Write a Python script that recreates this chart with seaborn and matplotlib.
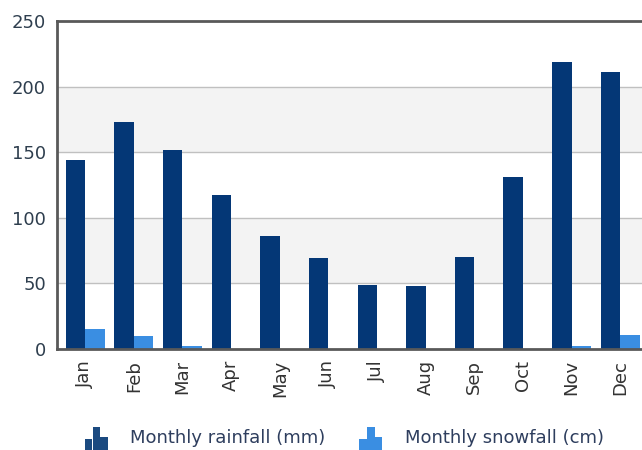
import seaborn as sns
import pandas as pd
import matplotlib.pyplot as plt
from matplotlib.patches import Rectangle
from matplotlib.legend_handler import HandlerBase

months = ['Jan', 'Feb', 'Mar', 'Apr', 'May', 'Jun', 'Jul', 'Aug', 'Sep', 'Oct', 'Nov', 'Dec']
rainfall = [144, 173, 152, 117, 86, 69, 49, 48, 70, 131, 219, 211]
snowfall = [15, 10, 2, 0, 0, 0, 0, 0, 0, 0, 2, 11]
series = ['Monthly rainfall (mm)', 'Monthly snowfall (cm)']
colors = ['#043776', '#3a8ee2']

df = pd.DataFrame({
    'month': months * 2,
    'value': rainfall + snowfall,
    'series': [series[0]] * 12 + [series[1]] * 12,
})

sns.set_style("white")
plt.rcParams['font.family'] = ['DejaVu Sans']

fig = plt.figure(figsize=(6.42, 4.5), dpi=100)
ax = fig.add_axes([57 / 642, 1 - 349 / 450, 1 - 57 / 642 + 0.01, 328 / 450])

# alternating bands: 50-100 and 150-200 grey, the rest white
for lo in (50, 150):
    ax.axhspan(lo, lo + 50, color='#f3f3f3', zorder=0, lw=0)

sns.barplot(data=df, x='month', y='value', hue='series', palette=colors,
            width=0.8, saturation=1, ax=ax, zorder=2, legend=False, linewidth=0)

ax.set_ylim(0, 250)
ax.set_xlim(-0.58, 11.58)
ax.set_yticks([0, 50, 100, 150, 200, 250])
for yv in (50, 100, 150, 200):
    ax.axhline(yv, color='#c0c0c0', lw=1, zorder=1)
ax.set_xlabel('')
ax.set_ylabel('')

for side in ('left', 'top', 'bottom'):
    ax.spines[side].set_color('#595959')
    ax.spines[side].set_linewidth(2)
ax.spines['right'].set_visible(False)

ax.tick_params(axis='y', labelsize=13, labelcolor='#2e3e4e', length=0, pad=8)
ax.tick_params(axis='x', labelsize=13, labelcolor='#333333', length=0, pad=8)
for lab in ax.get_xticklabels():
    lab.set_rotation(90)
    lab.set_ha('center')
    lab.set_va('top')


class MiniBars(HandlerBase):
    def __init__(self, color):
        super().__init__()
        self.color = color

    def create_artists(self, legend, orig_handle, xdescent, ydescent,
                       width, height, fontsize, trans):
        arts = []
        heights = [0.55, 1.15, 0.65]
        bw = width / 3
        for i, h in enumerate(heights):
            arts.append(Rectangle((-xdescent + i * bw, -ydescent - height * 0.35), bw * 0.95,
                                  height * h * 1.3, facecolor=self.color, edgecolor='none',
                                  transform=trans))
        return arts


handles = [Rectangle((0, 0), 1, 1), Rectangle((0, 0), 1, 1)]
fig.legend(handles, series, loc='lower center', bbox_to_anchor=(0.536, -0.03),
           ncol=2, frameon=False, fontsize=13, handlelength=1.3, handleheight=0.95,
           handletextpad=1.2, columnspacing=1.9,
           handler_map={handles[0]: MiniBars('#1b4a80'), handles[1]: MiniBars('#3a8ee2')},
           labelcolor='#2e3e5e')

fig.savefig('out.png', dpi=100)
